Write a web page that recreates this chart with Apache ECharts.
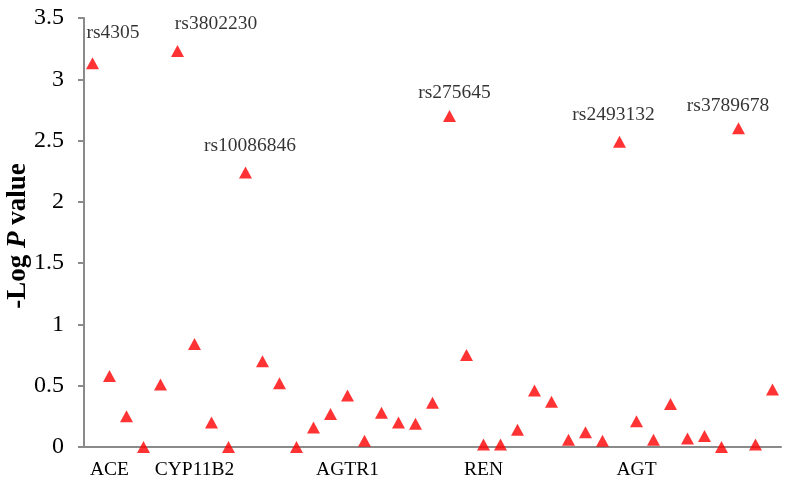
<!DOCTYPE html>
<html>
<head>
<meta charset="utf-8">
<script src="https://cdn.jsdelivr.net/npm/echarts@6/dist/echarts.min.js"></script>
<style>
html,body{margin:0;padding:0;background:#fff;}
#chart{width:789px;height:484px;}
</style>
</head>
<body>
<div id="chart"></div>
<script>
// SNP order along the x axis
const snpIndex = ['1','2','3','4','5','6','7','8','9','10','11','12','13','14','15','16','17','18','19','20','21','22','23','24','25','26','27','28','29','30','31','32','33','34','35','36','37','38','39','40','41'];
// -log P values
const logP = [3.13,0.58,0.25,0.00,0.51,3.23,0.84,0.20,0.00,2.24,0.70,0.52,0.00,0.16,0.27,0.42,0.05,0.28,0.20,0.19,0.36,2.70,0.75,0.02,0.02,0.14,0.46,0.37,0.06,0.12,0.05,2.49,0.21,0.06,0.35,0.07,0.09,0.00,2.60,0.02,0.47];
// gene labels under the axis
const geneLabels = ['','ACE','','','','','CYP11B2','','','','','','','','','AGTR1','','','','','','','','REN','','','','','','','','','AGT','','','','','','','',''];
// annotated SNP names
const snpNames = ['rs4305','','','','','rs3802230','','','','rs10086846','','','','','','','','','','','','rs275645','','','','','','','','','','rs2493132','','','','','','','rs3789678','',''];
const yTicks = {min: 0, max: 3.5, step: 0.5};

// label placement (styling, not data)
const labelOffsets = {0:[20.5,-30],5:[38.5,-27],9:[4.5,-27],21:[5,-23],31:[-6,-27],38:[-10.5,-22]};

const axisColor = '#8a8a8a';
const font = '"Liberation Serif", "Times New Roman", serif';

const seriesData = logP.map((v, i) => {
  const item = {value: v};
  if (snpNames[i]) {
    item.label = {
      show: true,
      position: 'inside',
      offset: labelOffsets[i] || [0,-25],
      formatter: snpNames[i],
      color: '#000',
      fontFamily: font,
      fontSize: 19.5
    };
  }
  return item;
});

const chart = echarts.init(document.getElementById('chart'), null, {renderer: 'canvas'});
chart.setOption({
  animation: false,
  backgroundColor: '#fff',
  grid: {left: 84, right: 8, top: 18, bottom: 37, containLabel: false, outerBoundsMode: 'none'},
  xAxis: {
    type: 'category',
    data: snpIndex,
    boundaryGap: true,
    axisLine: {show: true, lineStyle: {color: axisColor, width: 2}},
    axisTick: {show: false},
    axisLabel: {
      interval: 0,
      margin: 13,
      formatter: (v, i) => geneLabels[i],
      color: '#000',
      fontFamily: font,
      fontSize: 19.5
    },
    splitLine: {show: false}
  },
  yAxis: {
    type: 'value',
    min: yTicks.min,
    max: yTicks.max,
    interval: yTicks.step,
    axisLine: {show: true, lineStyle: {color: axisColor, width: 2}},
    axisTick: {show: true, length: 6, lineStyle: {color: axisColor, width: 2}},
    axisLabel: {margin: 20, color: '#000', fontFamily: font, fontSize: 24},
    splitLine: {show: false},
    name: '{a|-Log }{b|P}{a| value}',
    nameLocation: 'middle',
    nameGap: 52,
    nameRotate: 90,
    nameMoveOverlap: false,
    nameTextStyle: {
      padding: [0, 7, 0, 0],
      rich: {
        a: {fontFamily: font, fontWeight: 'bold', fontSize: 27, color: '#000'},
        b: {fontFamily: font, fontWeight: 'bold', fontStyle: 'italic', fontSize: 27, color: '#000'}
      }
    }
  },
  series: [{
    type: 'scatter',
    data: seriesData,
    symbol: 'triangle',
    symbolSize: [13, 12],
    itemStyle: {color: '#ff0000'},
    label: {show: false}
  }]
});
</script>
</body>
</html>
